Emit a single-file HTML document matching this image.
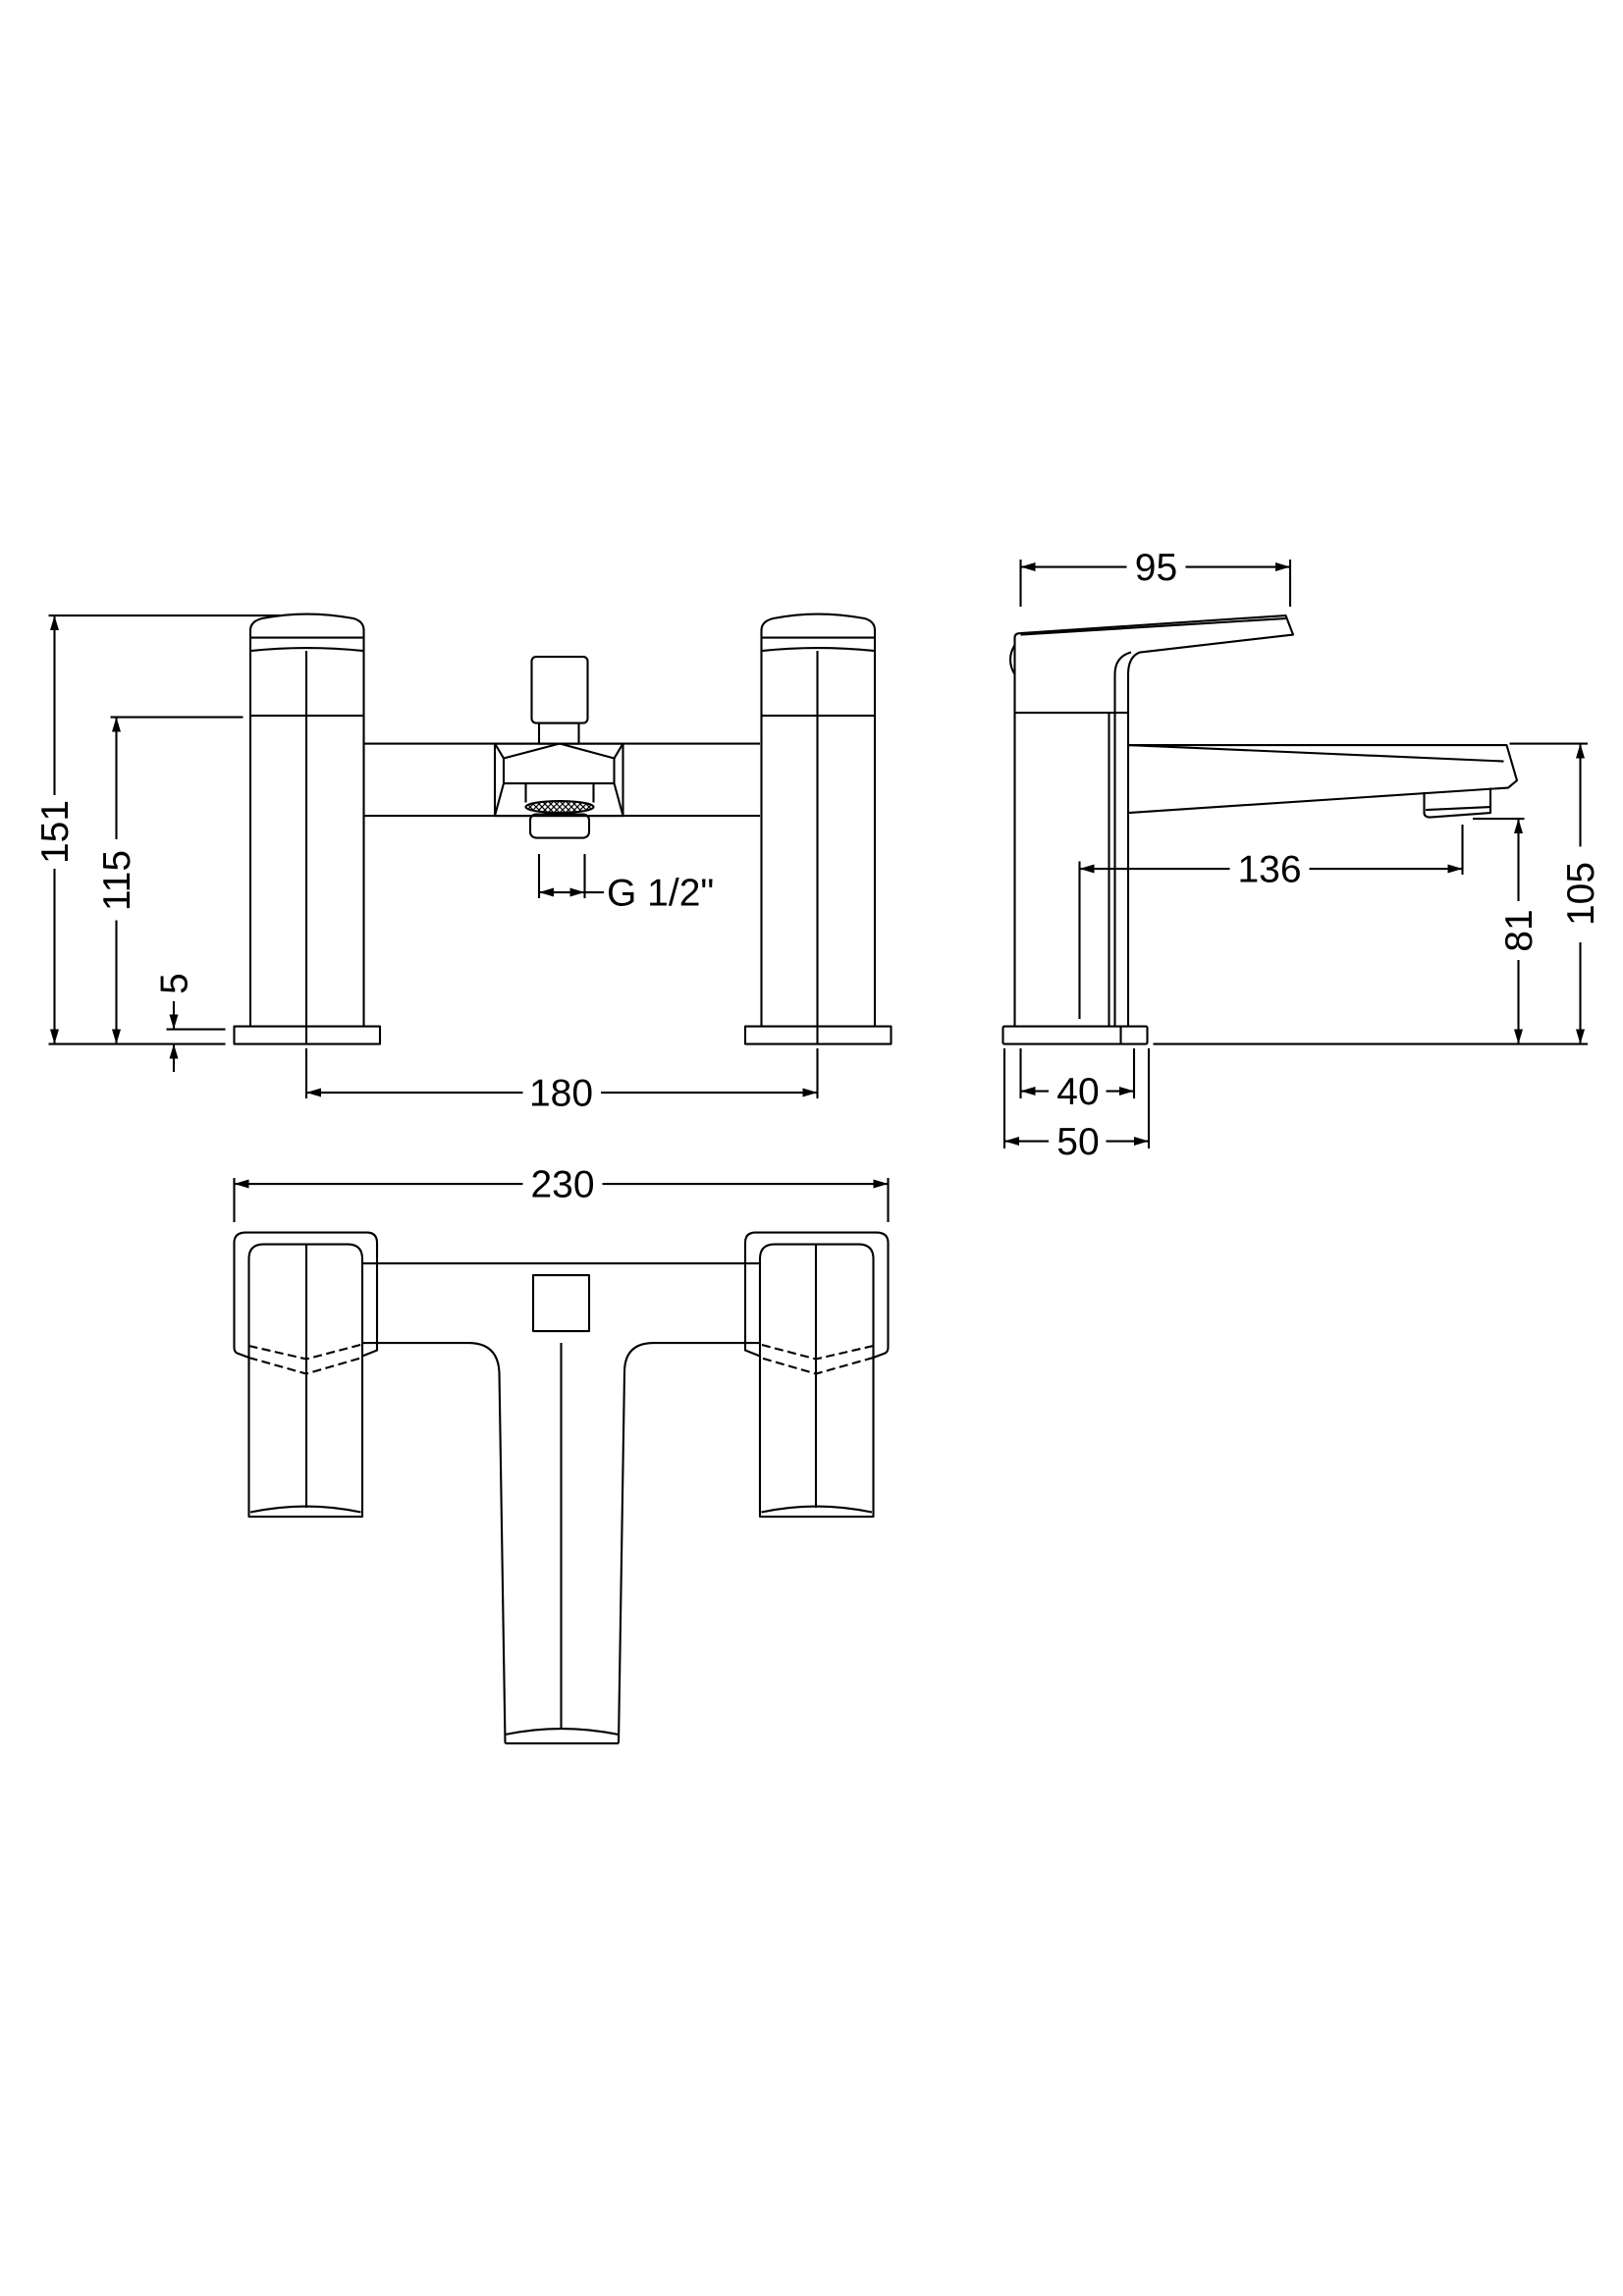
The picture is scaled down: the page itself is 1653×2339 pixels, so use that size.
<!DOCTYPE html>
<html><head><meta charset="utf-8"><style>html,body{margin:0;padding:0;background:#fff}svg{display:block}</style></head>
<body>
<svg width="1653" height="2339" viewBox="0 0 1102 1559.3" xmlns="http://www.w3.org/2000/svg">
<defs>
<marker id="a" viewBox="0 0 10 6" refX="10" refY="3" markerWidth="10" markerHeight="6" orient="auto-start-reverse" markerUnits="userSpaceOnUse"><path d="M0,0 L10,3 L0,6 z" fill="#000"/></marker>
<pattern id="k" width="4" height="4" patternUnits="userSpaceOnUse"><path d="M0,0 L4,4 M4,0 L0,4" stroke="#000" stroke-width="0.8"/></pattern>
</defs>
<g fill="none" stroke="#000" stroke-width="1.4" stroke-linejoin="round">
<!-- FRONT VIEW dims -->
<line x1="33" y1="418" x2="190" y2="418"/>
<line x1="37" y1="418" x2="37" y2="540" marker-start="url(#a)"/>
<line x1="37" y1="590" x2="37" y2="709" marker-end="url(#a)"/>
<line x1="75" y1="487" x2="165" y2="487"/>
<line x1="79" y1="487" x2="79" y2="570" marker-start="url(#a)"/>
<line x1="79" y1="625" x2="79" y2="709" marker-end="url(#a)"/>
<line x1="33" y1="709" x2="153" y2="709"/>
<line x1="113" y1="699" x2="153" y2="699"/>
<line x1="118" y1="680" x2="118" y2="699" marker-end="url(#a)"/>
<line x1="118" y1="709" x2="118" y2="728" marker-start="url(#a)"/>
<line x1="208" y1="712" x2="208" y2="746"/>
<line x1="555" y1="712" x2="555" y2="746"/>
<line x1="208" y1="742" x2="355" y2="742" marker-start="url(#a)"/>
<line x1="408" y1="742" x2="555" y2="742" marker-end="url(#a)"/>
<!-- pillars -->
<g id="pl">
<path d="M170,697 V428 Q170,422 178,420 Q208,414 240,420 Q247,422 247,428 V697"/>
<line x1="170" y1="433" x2="247" y2="433"/>
<path d="M170,442 Q208,438 247,442"/>
<line x1="170" y1="486" x2="247" y2="486"/>
<line x1="208" y1="442" x2="208" y2="709"/>
<rect x="159" y="697" width="99" height="12"/>
</g>
<use href="#pl" transform="translate(347,0)"/>
<!-- bar -->
<line x1="247" y1="505" x2="516" y2="505"/>
<line x1="247" y1="554" x2="516" y2="554"/>
<rect x="336" y="505" width="87" height="49"/>
<path d="M342,515 L380,505 L417,515 V532 H342 Z"/>
<line x1="336" y1="505" x2="342" y2="515"/><line x1="423" y1="505" x2="417" y2="515"/>
<line x1="336" y1="554" x2="342" y2="532"/><line x1="423" y1="554" x2="417" y2="532"/>
<rect x="361" y="446" width="38" height="45" rx="3"/>
<rect x="366" y="491" width="27" height="14"/>
<path d="M357,532 V545 M403,532 V545"/>
<ellipse cx="380" cy="548" rx="23" ry="4" fill="url(#k)"/>
<rect x="360" y="553" width="40" height="16" rx="4"/>
<line x1="366" y1="580" x2="366" y2="610"/>
<line x1="397" y1="580" x2="397" y2="610"/>
<line x1="366" y1="606" x2="397" y2="606" marker-start="url(#a)" marker-end="url(#a)"/>
<line x1="397" y1="606" x2="410" y2="606"/>
<!-- SIDE VIEW -->
<line x1="693" y1="380" x2="693" y2="412"/>
<line x1="876" y1="380" x2="876" y2="412"/>
<line x1="693" y1="385" x2="765" y2="385" marker-start="url(#a)"/>
<line x1="805" y1="385" x2="876" y2="385" marker-end="url(#a)"/>
<path d="M689,697 V433 Q689,430 693,430 L873,418 L878,431 L774,443 Q766,446 766,458 V697"/>
<path d="M693,431 L873,420"/>
<path d="M757,697 V458 Q757,446 768,443"/>
<path d="M689,438 Q683,448 689,458"/>
<line x1="689" y1="484" x2="766" y2="484"/>
<line x1="753" y1="484" x2="753" y2="697"/>
<path d="M766,506 H1023 L1030,530 L1024,535 L766,552"/>
<line x1="766" y1="506" x2="1021" y2="517"/>
<path d="M967,538 V552 Q967,555 971,555 L1012,552 V535"/>
<line x1="968" y1="550" x2="1012" y2="548"/>
<rect x="681" y="697" width="98" height="12" rx="1"/>
<line x1="761" y1="697" x2="761" y2="709"/>
<line x1="783" y1="709" x2="1078" y2="709"/>
<line x1="1025" y1="505" x2="1078" y2="505"/>
<line x1="1073" y1="505" x2="1073" y2="575" marker-start="url(#a)"/>
<line x1="1073" y1="640" x2="1073" y2="709" marker-end="url(#a)"/>
<line x1="1000" y1="556" x2="1035" y2="556"/>
<line x1="1031" y1="556" x2="1031" y2="612" marker-start="url(#a)"/>
<line x1="1031" y1="652" x2="1031" y2="709" marker-end="url(#a)"/>
<line x1="733" y1="585" x2="733" y2="692"/>
<line x1="993" y1="560" x2="993" y2="594"/>
<line x1="733" y1="590" x2="835" y2="590" marker-start="url(#a)"/>
<line x1="889" y1="590" x2="993" y2="590" marker-end="url(#a)"/>
<line x1="693" y1="712" x2="693" y2="746"/>
<line x1="770" y1="712" x2="770" y2="746"/>
<line x1="682" y1="712" x2="682" y2="780"/>
<line x1="780" y1="712" x2="780" y2="780"/>
<line x1="693" y1="741" x2="712" y2="741" marker-start="url(#a)"/>
<line x1="751" y1="741" x2="770" y2="741" marker-end="url(#a)"/>
<line x1="682" y1="775" x2="712" y2="775" marker-start="url(#a)"/>
<line x1="751" y1="775" x2="780" y2="775" marker-end="url(#a)"/>
<!-- TOP VIEW -->
<line x1="159" y1="800" x2="159" y2="830"/>
<line x1="603" y1="800" x2="603" y2="830"/>
<line x1="159" y1="804" x2="355" y2="804" marker-start="url(#a)"/>
<line x1="409" y1="804" x2="603" y2="804" marker-end="url(#a)"/>
<g id="th">
<path d="M169,922 L161,919 Q159,918 159,915 V844 Q159,837 167,837 H249 Q256,837 256,844 V917 L246,921"/>
<path d="M169,1030 V855 Q169,845 179,845 H236 Q246,845 246,855 V1030 Z"/>
<path d="M170,1027 Q208,1019 245,1027"/>
<line x1="208" y1="845" x2="208" y2="1024"/>
<path d="M169,914 L208,923 L246,913 M169,922 L208,933 L246,922" stroke-dasharray="6,3"/>
</g>
<use href="#th" transform="translate(762,0) scale(-1,1)"/>
<line x1="246" y1="858" x2="516" y2="858"/>
<path d="M246,912 H318 Q338,912 339,932 L343,1184 M516,912 H444 Q424,912 424,932 L420,1184"/>
<path d="M343,1178 Q381,1170 420,1178 M343,1184 H420"/>
<line x1="381" y1="912" x2="381" y2="1174"/>
<rect x="362" y="866" width="38" height="38"/>
</g>
<g font-family="Liberation Sans, sans-serif" font-size="26" fill="#000" text-anchor="middle">
<text transform="translate(46,565) rotate(-90)">151</text>
<text transform="translate(88,598) rotate(-90)">115</text>
<text transform="translate(127,668) rotate(-90)">5</text>
<text x="381" y="751">180</text>
<text x="412" y="615" text-anchor="start">G 1/2"</text>
<text x="785" y="394">95</text>
<text x="862" y="599">136</text>
<text transform="translate(1082,607) rotate(-90)">105</text>
<text transform="translate(1040,632) rotate(-90)">81</text>
<text x="732" y="750">40</text>
<text x="732" y="784">50</text>
<text x="382" y="813">230</text>
</g>
</svg>
</body></html>
